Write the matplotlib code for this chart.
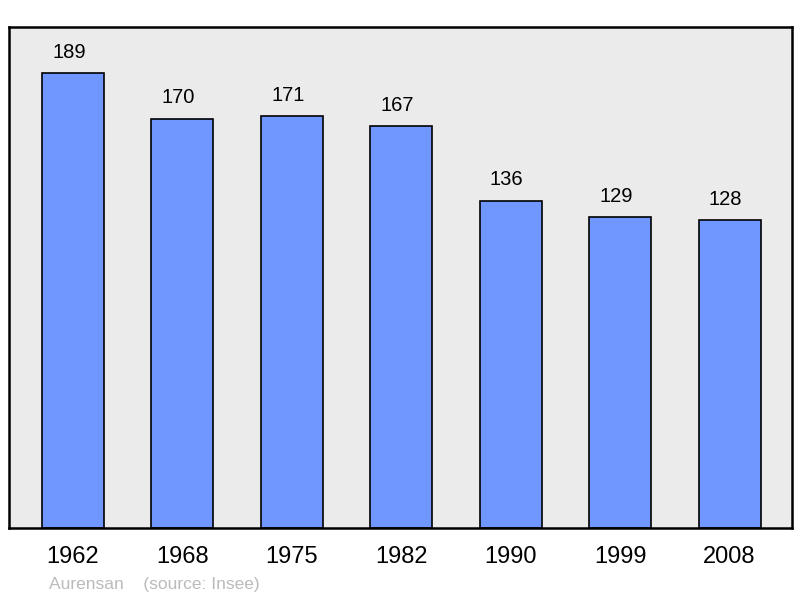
import matplotlib.pyplot as plt
import numpy as np

plt.rcParams['font.family'] = ['Liberation Sans', 'DejaVu Sans']

years = ['1962', '1968', '1975', '1982', '1990', '1999', '2008']
population = [189, 170, 171, 167, 136, 129, 128]

fig = plt.figure(figsize=(8, 5.98), dpi=100)
ax = fig.add_axes([9 / 800, 70 / 598, 783 / 800, 501 / 598])
ax.set_facecolor('#ebebeb')

x = np.arange(len(years))
bars = ax.bar(x, population, width=0.567, color='#7097ff', edgecolor='black', linewidth=1.2)

for xi, val in zip(x, population):
    ax.annotate(str(val), (xi, val), xytext=(-3, 15), textcoords='offset points',
                ha='center', va='center', fontsize=14.5)

ax.set_xlim(-0.585, 6.57)
ax.set_ylim(0, 208.1)
ax.set_xticks(x)
ax.set_xticklabels(years, fontsize=17)
ax.tick_params(axis='x', length=0, pad=13)
ax.set_yticks([])
for sp in ax.spines.values():
    sp.set_linewidth(1.8)

fig.text(49 / 800, 1 - 584 / 598, 'Aurensan    (source: Insee)', color='#bbbbbb',
         fontsize=12.5, va='center', ha='left')

fig.savefig('out.png', dpi=100)
